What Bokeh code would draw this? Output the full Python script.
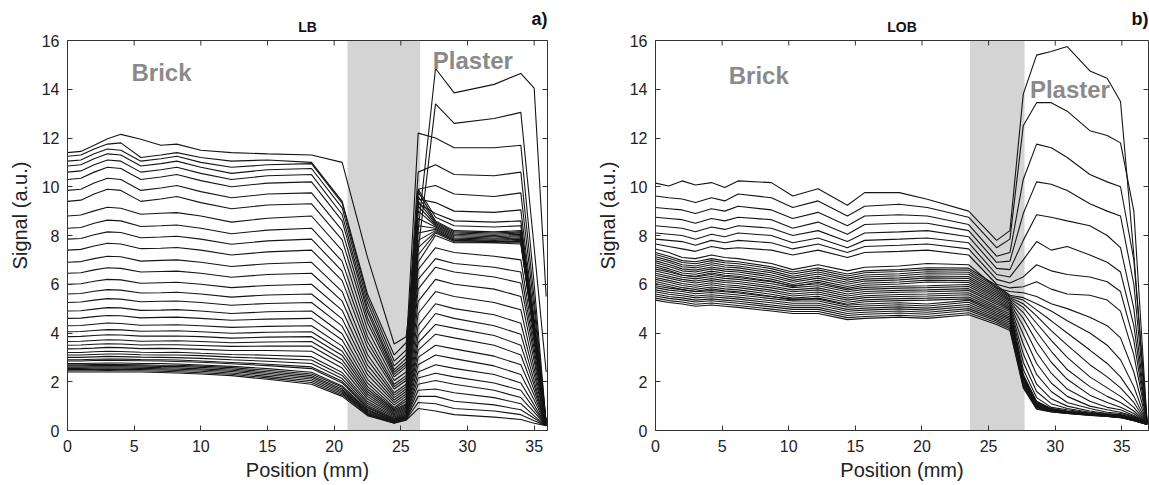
from bokeh.plotting import figure
from bokeh.layouts import row
from bokeh.models import Range1d, BoxAnnotation, Label, LinearAxis, FixedTicker, Span
from bokeh.embed import file_html
from bokeh.resources import INLINE

# ---------------- Panel a (LB) ----------------
LB_X = [0, 1, 2, 3, 4, 5.5, 7, 8.2, 10, 12.3, 15, 18.3, 20.6, 22.5, 24.5, 25.4, 26.3, 27.6, 29, 32, 34, 35, 35.9]

LB_EARLY = [
    [11.4, 11.45, 11.7, 11.97, 12.15, 11.95, 11.7, 11.75, 11.5, 11.4, 11.35, 11.3, 11.0, 7.1, 3.55, 3.85, 8.2, 14.85, 13.85, 14.2, 14.65, 14.05, 5.5],
    [11.25, 11.3, 11.55, 11.75, 11.8, 11.2, 11.3, 11.4, 11.2, 11.05, 11.1, 11.0, 9.4, 5.6, 3.1, 3.6, 7.4, 13.4, 12.6, 12.8, 13.05, 7.5, 2.4],
    [11.05, 11.1, 11.35, 11.55, 11.5, 11.05, 11.15, 11.25, 11.0, 10.8, 10.9, 10.95, 9.33, 5.44, 2.85, 3.3, 12.2, 12.0, 11.6, 11.6, 11.7, 6.0, 0.3],
    [10.85, 10.9, 11.15, 11.35, 11.3, 10.85, 10.95, 11.05, 10.8, 10.55, 10.7, 10.75, 9.13, 5.24, 2.65, 3.1, 10.6, 10.9, 10.5, 10.45, 10.6, 5.4, 0.3],
    [10.6, 10.65, 10.9, 11.1, 11.05, 10.6, 10.7, 10.8, 10.55, 10.3, 10.45, 10.5, 8.86, 5.02, 2.5, 2.95, 9.9, 10.05, 9.7, 9.6, 9.75, 5.0, 0.3],
    [10.3, 10.35, 10.6, 10.8, 10.75, 10.3, 10.4, 10.5, 10.25, 10.0, 10.15, 10.2, 8.6, 4.86, 2.4, 2.8, 9.5, 9.35, 9.0, 8.95, 9.05, 4.6, 0.3],
    [9.85, 9.9, 10.15, 10.35, 10.3, 9.85, 9.95, 10.05, 9.8, 9.55, 9.7, 9.75, 8.21, 4.63, 2.3, 2.7, 9.3, 8.9, 8.6, 8.55, 8.6, 4.4, 0.3],
    [9.4, 9.45, 9.7, 9.9, 9.85, 9.4, 9.5, 9.6, 9.35, 9.1, 9.25, 9.3, 7.82, 4.42, 2.2, 2.6, 9.9, 8.75, 8.4, 8.35, 8.4, 4.3, 0.3],
]

LB_MIDDLE = [
    [8.8, 8.84, 9.01, 9.16, 9.12, 8.87, 8.91, 8.94, 8.8, 8.55, 8.71, 8.8, 7.38, 4.14, 2.05, 2.4, 9.8, 8.6, 8.2, 8.15, 8.2, 4.2, 0.3],
    [8.3, 8.33, 8.5, 8.63, 8.6, 8.37, 8.4, 8.43, 8.3, 8.07, 8.22, 8.3, 6.94, 3.86, 1.9, 2.25, 9.6, 8.55, 8.15, 8.1, 8.15, 4.15, 0.3],
    [7.85, 7.88, 8.03, 8.15, 8.12, 7.91, 7.94, 7.97, 7.85, 7.64, 7.78, 7.85, 6.54, 3.63, 1.8, 2.15, 9.4, 8.5, 8.1, 8.05, 8.1, 4.1, 0.3],
    [7.4, 7.43, 7.57, 7.68, 7.65, 7.46, 7.48, 7.51, 7.4, 7.2, 7.33, 7.4, 6.15, 3.4, 1.7, 2.05, 9.2, 8.45, 8.05, 8.0, 8.05, 4.1, 0.3],
    [6.9, 6.93, 7.05, 7.15, 7.13, 6.95, 6.98, 7.0, 6.9, 6.73, 6.84, 6.9, 5.7, 3.12, 1.55, 1.9, 9.0, 8.4, 8.0, 7.95, 8.0, 4.05, 0.3],
    [6.45, 6.47, 6.59, 6.68, 6.65, 6.5, 6.52, 6.54, 6.45, 6.29, 6.4, 6.45, 5.31, 2.9, 1.45, 1.8, 8.7, 8.35, 7.95, 7.9, 7.95, 4.0, 0.3],
    [6.0, 6.02, 6.12, 6.2, 6.18, 6.04, 6.06, 6.08, 6.0, 5.86, 5.95, 6.0, 4.93, 2.68, 1.35, 1.7, 8.4, 8.3, 7.9, 7.85, 7.9, 4.0, 0.3],
    [5.6, 5.62, 5.71, 5.78, 5.76, 5.64, 5.65, 5.67, 5.6, 5.47, 5.56, 5.6, 4.58, 2.48, 1.25, 1.6, 8.1, 8.25, 7.85, 7.8, 7.85, 3.95, 0.3],
    [5.25, 5.27, 5.35, 5.41, 5.39, 5.28, 5.3, 5.31, 5.25, 5.14, 5.21, 5.25, 4.28, 2.29, 1.15, 1.5, 7.8, 8.2, 7.8, 7.75, 7.8, 3.95, 0.3],
    [4.9, 4.91, 4.98, 5.04, 5.03, 4.93, 4.94, 4.96, 4.9, 4.8, 4.87, 4.9, 3.97, 2.1, 1.05, 1.4, 7.5, 8.15, 7.8, 7.75, 7.75, 3.9, 0.3],
    [4.6, 4.61, 4.67, 4.72, 4.71, 4.62, 4.64, 4.65, 4.6, 4.52, 4.57, 4.6, 3.71, 1.94, 0.95, 1.3, 7.2, 8.1, 7.75, 7.7, 7.7, 3.9, 0.3],
    [4.3, 4.31, 4.36, 4.41, 4.39, 4.32, 4.33, 4.34, 4.3, 4.23, 4.27, 4.3, 3.46, 1.8, 0.9, 1.2, 6.9, 8.0, 7.7, 7.7, 7.65, 3.85, 0.3],
]

LB_LATE = [
    [4.05, 4.06, 4.1, 4.14, 4.13, 4.07, 4.08, 4.09, 4.05, 3.99, 4.03, 4.05, 3.25, 1.69, 0.85, 1.1, 6.6, 7.5, 7.3, 7.15, 7.0, 3.6, 0.25],
    [3.85, 3.86, 3.9, 3.93, 3.92, 3.87, 3.87, 3.88, 3.85, 3.79, 3.83, 3.85, 3.08, 1.59, 0.8, 1.05, 6.2, 7.05, 6.85, 6.7, 6.5, 3.35, 0.25],
    [3.65, 3.66, 3.69, 3.72, 3.71, 3.66, 3.67, 3.68, 3.65, 3.6, 3.63, 3.65, 2.9, 1.49, 0.75, 1.0, 5.8, 6.7, 6.5, 6.3, 6.05, 3.1, 0.25],
    [3.5, 3.51, 3.54, 3.56, 3.55, 3.51, 3.52, 3.52, 3.49, 3.45, 3.46, 3.46, 2.74, 1.39, 0.7, 0.95, 5.3, 6.2, 6.0, 5.8, 5.5, 2.85, 0.25],
    [3.35, 3.36, 3.38, 3.41, 3.4, 3.36, 3.37, 3.36, 3.33, 3.28, 3.28, 3.25, 2.56, 1.29, 0.65, 0.9, 4.8, 5.7, 5.5, 5.25, 4.95, 2.55, 0.25],
    [3.2, 3.2, 3.23, 3.25, 3.24, 3.21, 3.2, 3.21, 3.17, 3.12, 3.09, 3.03, 2.38, 1.19, 0.6, 0.85, 4.3, 5.2, 5.0, 4.75, 4.4, 2.3, 0.25],
    [3.1, 3.1, 3.12, 3.14, 3.14, 3.11, 3.1, 3.1, 3.07, 3.01, 2.96, 2.89, 2.26, 1.11, 0.55, 0.8, 3.9, 4.8, 4.6, 4.3, 3.95, 2.05, 0.2],
    [3.0, 3.0, 3.02, 3.04, 3.03, 3.01, 3.0, 2.99, 2.96, 2.9, 2.84, 2.75, 2.13, 1.03, 0.5, 0.75, 3.6, 4.35, 4.2, 3.9, 3.5, 1.85, 0.2],
    [2.9, 2.9, 2.92, 2.93, 2.93, 2.91, 2.9, 2.89, 2.85, 2.79, 2.72, 2.61, 2.02, 0.96, 0.47, 0.7, 3.3, 3.95, 3.8, 3.5, 3.1, 1.65, 0.2],
    [2.85, 2.85, 2.87, 2.88, 2.87, 2.86, 2.85, 2.83, 2.8, 2.74, 2.66, 2.54, 1.95, 0.92, 0.45, 0.65, 3.0, 3.5, 3.35, 3.05, 2.7, 1.45, 0.2],
    [2.75, 2.75, 2.76, 2.77, 2.77, 2.75, 2.75, 2.73, 2.69, 2.63, 2.54, 2.39, 1.83, 0.86, 0.42, 0.62, 2.7, 3.1, 2.95, 2.65, 2.3, 1.25, 0.2],
    [2.7, 2.7, 2.71, 2.72, 2.71, 2.7, 2.68, 2.68, 2.64, 2.58, 2.47, 2.32, 1.77, 0.82, 0.4, 0.58, 2.4, 2.7, 2.55, 2.3, 1.95, 1.05, 0.2],
    [2.65, 2.65, 2.66, 2.67, 2.66, 2.65, 2.63, 2.63, 2.59, 2.52, 2.41, 2.25, 1.7, 0.78, 0.38, 0.55, 2.15, 2.35, 2.2, 1.95, 1.65, 0.9, 0.2],
    [2.6, 2.6, 2.61, 2.61, 2.61, 2.6, 2.58, 2.57, 2.53, 2.47, 2.35, 2.18, 1.64, 0.74, 0.36, 0.52, 1.9, 2.05, 1.9, 1.65, 1.35, 0.75, 0.2],
    [2.55, 2.55, 2.56, 2.56, 2.56, 2.55, 2.53, 2.51, 2.48, 2.42, 2.29, 2.11, 1.58, 0.7, 0.34, 0.5, 1.65, 1.7, 1.55, 1.35, 1.1, 0.6, 0.2],
    [2.5, 2.5, 2.5, 2.51, 2.5, 2.5, 2.48, 2.46, 2.43, 2.36, 2.22, 2.04, 1.52, 0.67, 0.32, 0.47, 1.4, 1.4, 1.2, 1.05, 0.85, 0.5, 0.2],
    [2.45, 2.45, 2.45, 2.46, 2.45, 2.45, 2.43, 2.41, 2.37, 2.31, 2.16, 1.97, 1.46, 0.64, 0.31, 0.45, 1.15, 1.1, 0.9, 0.8, 0.65, 0.4, 0.2],
    [2.4, 2.4, 2.4, 2.4, 2.4, 2.4, 2.38, 2.36, 2.32, 2.25, 2.1, 1.9, 1.4, 0.61, 0.3, 0.42, 0.9, 0.8, 0.65, 0.55, 0.45, 0.3, 0.2],
]

# ---------------- Panel b (LOB) ----------------
LOB_X = [0, 1, 2, 3, 4.2, 5.2, 6.2, 8.7, 10.3, 12.2, 14.4, 15.7, 18.3, 20.4, 23.5, 25.6, 26.6, 27.6, 28.6, 29.7, 30.9, 32.6, 33.9, 34.9, 35.9, 36.9]

LOB_EARLY = [
    [10.15, 10.03, 10.24, 10.07, 10.17, 9.97, 10.24, 10.17, 9.62, 9.92, 9.24, 9.76, 9.76, 9.49, 9.0, 7.8, 8.2, 13.8, 15.4, 15.55, 15.75, 14.75, 14.45, 13.5, 7.2, 0.3],
    [9.62, 9.55, 9.5, 9.35, 9.55, 9.42, 9.7, 9.55, 9.15, 9.42, 8.8, 9.2, 9.28, 9.15, 8.75, 7.5, 7.85, 12.5, 13.45, 13.45, 13.1, 12.3, 12.1, 11.8, 9.0, 0.3],
    [9.15, 9.1, 9.05, 8.9, 9.1, 9.0, 9.2, 9.05, 8.7, 8.95, 8.4, 8.8, 8.85, 8.8, 8.45, 7.15, 7.3, 10.3, 11.75, 11.6, 11.2, 10.5, 10.2, 10.0, 7.0, 0.3],
    [8.75, 8.7, 8.65, 8.5, 8.7, 8.6, 8.75, 8.65, 8.3, 8.55, 8.05, 8.45, 8.5, 8.5, 8.2, 6.9, 6.95, 8.9, 10.2, 10.1, 9.85, 9.3, 9.0, 8.8, 6.0, 0.3],
    [8.4, 8.35, 8.3, 8.15, 8.35, 8.25, 8.4, 8.3, 8.0, 8.2, 7.75, 8.1, 8.15, 8.2, 7.95, 6.65, 6.6, 7.8, 8.85, 8.75, 8.6, 8.4, 8.0, 7.5, 5.0, 0.3],
    [8.1, 8.05, 8.0, 7.85, 8.05, 7.95, 8.1, 8.0, 7.7, 7.9, 7.5, 7.8, 7.85, 7.9, 7.7, 6.4, 6.3, 7.0, 7.75, 7.4, 7.55, 7.2, 6.9, 6.5, 4.3, 0.3],
    [7.85, 7.8, 7.75, 7.6, 7.8, 7.7, 7.8, 7.7, 7.45, 7.65, 7.3, 7.55, 7.6, 7.65, 7.45, 6.2, 6.05, 6.3, 6.8, 6.55, 6.4, 6.3, 6.1, 5.7, 3.7, 0.3],
    [7.65, 7.55, 7.45, 7.35, 7.55, 7.45, 7.5, 7.4, 7.2, 7.4, 7.1, 7.3, 7.35, 7.4, 7.2, 6.0, 5.85, 5.9, 6.1, 5.8, 5.6, 5.55, 5.35, 4.9, 3.1, 0.3],
    [7.45, 7.3, 7.1, 7.05, 7.2, 7.1, 7.05, 6.85, 6.6, 6.8, 6.55, 6.7, 6.75, 6.85, 6.8, 5.85, 5.7, 5.65, 5.5, 5.2, 5.0, 4.65, 4.3, 3.8, 2.4, 0.3],
]

LOB_FAN = [
    [7.3, 7.15, 6.97, 6.92, 7.05, 6.96, 6.92, 6.72, 6.5, 6.67, 6.42, 6.55, 6.6, 6.68, 6.66, 5.95, 5.55, 5.45, 5.2, 4.9, 4.5, 4.0, 3.5, 2.9, 1.8, 0.3],
    [7.22, 7.07, 6.89, 6.84, 6.97, 6.88, 6.84, 6.64, 6.42, 6.59, 6.34, 6.47, 6.52, 6.6, 6.58, 5.88, 5.5, 5.35, 4.95, 4.5, 4.0, 3.3, 2.75, 2.2, 1.4, 0.3],
    [7.13, 6.98, 6.8, 6.75, 6.88, 6.79, 6.75, 6.55, 6.33, 6.5, 6.25, 6.38, 6.43, 6.51, 6.49, 5.81, 5.45, 5.2, 4.7, 4.1, 3.5, 2.7, 2.2, 1.75, 1.15, 0.3],
    [7.05, 6.9, 6.72, 6.67, 6.8, 6.71, 6.67, 6.47, 6.25, 6.42, 6.17, 6.3, 6.35, 6.43, 6.41, 5.74, 5.4, 5.05, 4.4, 3.7, 3.0, 2.2, 1.75, 1.4, 0.95, 0.3],
    [6.96, 6.81, 6.63, 6.58, 6.71, 6.62, 6.58, 6.38, 6.16, 6.33, 6.08, 6.21, 6.26, 6.34, 6.32, 5.67, 5.35, 4.85, 4.05, 3.25, 2.5, 1.8, 1.4, 1.15, 0.8, 0.3],
    [6.88, 6.73, 6.55, 6.5, 6.63, 6.54, 6.5, 6.3, 6.08, 6.25, 6.0, 6.13, 6.18, 6.26, 6.24, 5.6, 5.3, 4.6, 3.65, 2.8, 2.1, 1.45, 1.15, 0.95, 0.7, 0.3],
    [6.79, 6.64, 6.46, 6.41, 6.54, 6.45, 6.41, 6.21, 5.99, 6.16, 5.91, 6.04, 6.09, 6.17, 6.15, 5.53, 5.24, 4.3, 3.2, 2.35, 1.7, 1.2, 0.95, 0.85, 0.62, 0.3],
    [6.71, 6.56, 6.38, 6.33, 6.46, 6.37, 6.33, 6.13, 5.91, 6.08, 5.83, 5.96, 6.01, 6.09, 6.07, 5.46, 5.18, 3.95, 2.75, 1.95, 1.4, 1.0, 0.85, 0.75, 0.58, 0.3],
    [6.62, 6.5, 6.37, 6.3, 6.4, 6.32, 6.28, 6.1, 5.94, 6.02, 5.77, 5.87, 5.92, 5.94, 5.99, 5.39, 5.12, 3.55, 2.3, 1.6, 1.15, 0.9, 0.75, 0.7, 0.55, 0.3],
    [6.54, 6.42, 6.29, 6.22, 6.32, 6.24, 6.2, 6.02, 5.86, 5.94, 5.69, 5.79, 5.84, 5.86, 5.91, 5.32, 5.06, 3.15, 1.9, 1.3, 1.0, 0.8, 0.7, 0.65, 0.52, 0.3],
    [6.45, 6.33, 6.2, 6.13, 6.23, 6.15, 6.11, 5.93, 5.77, 5.85, 5.6, 5.7, 5.75, 5.77, 5.82, 5.25, 5.0, 2.8, 1.6, 1.1, 0.9, 0.75, 0.68, 0.62, 0.5, 0.3],
    [6.37, 6.25, 6.12, 6.05, 6.15, 6.07, 6.03, 5.85, 5.69, 5.77, 5.52, 5.62, 5.67, 5.69, 5.74, 5.18, 4.94, 2.5, 1.35, 0.95, 0.85, 0.72, 0.66, 0.6, 0.48, 0.3],
]

LOB_LATE = [
    [6.28, 6.16, 6.03, 5.96, 6.06, 5.98, 5.94, 5.76, 5.6, 5.68, 5.43, 5.53, 5.58, 5.6, 5.65, 5.1, 4.88, 2.3, 1.2, 0.9, 0.8, 0.7, 0.65, 0.6, 0.45, 0.28],
    [6.2, 6.08, 5.95, 5.88, 5.98, 5.9, 5.86, 5.68, 5.52, 5.6, 5.35, 5.45, 5.5, 5.52, 5.57, 5.03, 4.8, 2.25, 1.17, 0.89, 0.79, 0.69, 0.64, 0.59, 0.45, 0.28],
    [6.11, 5.99, 5.86, 5.79, 5.89, 5.81, 5.77, 5.59, 5.43, 5.51, 5.26, 5.36, 5.41, 5.43, 5.48, 4.96, 4.73, 2.2, 1.14, 0.88, 0.78, 0.69, 0.64, 0.58, 0.44, 0.27],
    [6.03, 5.91, 5.78, 5.71, 5.81, 5.73, 5.69, 5.51, 5.35, 5.43, 5.18, 5.28, 5.33, 5.35, 5.4, 4.89, 4.66, 2.15, 1.11, 0.86, 0.77, 0.68, 0.63, 0.58, 0.44, 0.27],
    [5.94, 5.84, 5.78, 5.69, 5.74, 5.69, 5.64, 5.49, 5.39, 5.39, 5.14, 5.19, 5.24, 5.19, 5.34, 4.82, 4.59, 2.1, 1.08, 0.85, 0.76, 0.67, 0.62, 0.57, 0.43, 0.27],
    [5.86, 5.76, 5.7, 5.61, 5.66, 5.61, 5.56, 5.41, 5.31, 5.31, 5.06, 5.11, 5.16, 5.11, 5.26, 4.75, 4.52, 2.05, 1.05, 0.84, 0.75, 0.67, 0.62, 0.56, 0.43, 0.26],
    [5.77, 5.67, 5.61, 5.52, 5.57, 5.52, 5.47, 5.32, 5.22, 5.22, 4.97, 5.02, 5.07, 5.02, 5.17, 4.69, 4.45, 2.0, 1.02, 0.82, 0.74, 0.66, 0.61, 0.56, 0.42, 0.26],
    [5.69, 5.59, 5.53, 5.44, 5.49, 5.44, 5.39, 5.24, 5.14, 5.14, 4.89, 4.94, 4.99, 4.94, 5.09, 4.62, 4.38, 1.95, 0.99, 0.81, 0.73, 0.65, 0.6, 0.55, 0.42, 0.26],
    [5.6, 5.5, 5.44, 5.35, 5.4, 5.35, 5.3, 5.15, 5.05, 5.05, 4.8, 4.85, 4.9, 4.85, 5.0, 4.55, 4.31, 1.9, 0.96, 0.8, 0.72, 0.64, 0.6, 0.54, 0.41, 0.25],
    [5.52, 5.42, 5.36, 5.27, 5.32, 5.27, 5.22, 5.07, 4.97, 4.97, 4.72, 4.77, 4.82, 4.77, 4.92, 4.49, 4.24, 1.85, 0.93, 0.78, 0.71, 0.64, 0.59, 0.54, 0.41, 0.25],
    [5.43, 5.33, 5.27, 5.18, 5.23, 5.18, 5.13, 4.98, 4.88, 4.88, 4.63, 4.68, 4.73, 4.68, 4.83, 4.42, 4.17, 1.8, 0.9, 0.77, 0.7, 0.63, 0.58, 0.53, 0.4, 0.25],
    [5.35, 5.25, 5.19, 5.1, 5.15, 5.1, 5.05, 4.9, 4.8, 4.8, 4.55, 4.6, 4.65, 4.6, 4.75, 4.35, 4.1, 1.75, 0.87, 0.76, 0.7, 0.62, 0.58, 0.52, 0.4, 0.25],
]

X_TICKS = [0, 5, 10, 15, 20, 25, 30, 35]
Y_TICKS = [0, 2, 4, 6, 8, 10, 12, 14, 16]
Y_MAX = 16

FONT = "Liberation Sans"
LINE_COLOR = "#151515"
AXIS_COLOR = "#333333"
SHADE_COLOR = "#d4d4d4"
ZONE_COLOR = "#8a8a8a"

PX_PER_UNIT = 390 / 16.0          # plot box is 390 px tall for 0..16
TOP_PAD = 40 / PX_PER_UNIT        # room above the box for the panel titles
TICK_LEN = 5 / PX_PER_UNIT


def make_panel(xk, groups, xmax, shade, title, tag, brick_x, brick_y,
               plaster_x, plaster_y, border_left, border_right, frame_w):
    p = figure(frame_width=frame_w, frame_height=430,
               x_range=Range1d(0, xmax), y_range=Range1d(0, Y_MAX + TOP_PAD),
               output_backend="svg", toolbar_location=None,
               min_border_left=border_left, min_border_right=border_right,
               min_border_top=0, min_border_bottom=55)
    p.grid.visible = False
    p.outline_line_color = None
    p.background_fill_color = "white"
    p.border_fill_color = "white"

    p.add_layout(BoxAnnotation(left=shade[0], right=shade[1], bottom=0, top=Y_MAX,
                               fill_color=SHADE_COLOR, fill_alpha=1.0,
                               line_color=None, level="underlay"))

    for grp in groups:
        p.multi_line(xs=[xk] * len(grp), ys=grp, line_color=LINE_COLOR, line_width=1.1)

    # box top edge and its inward ticks
    p.add_layout(Span(location=Y_MAX, dimension="width", line_color=AXIS_COLOR, line_width=1))
    p.segment(x0=X_TICKS, y0=[Y_MAX] * len(X_TICKS), x1=X_TICKS,
              y1=[Y_MAX - TICK_LEN] * len(X_TICKS), line_color=AXIS_COLOR, line_width=1)

    xa = p.xaxis[0]
    xa.ticker = FixedTicker(ticks=X_TICKS)
    xa.axis_label = "Position (mm)"
    ya = p.yaxis[0]
    ya.ticker = FixedTicker(ticks=Y_TICKS)
    ya.axis_label = "Signal (a.u.)"
    ya.bounds = (0, Y_MAX)
    right = LinearAxis(ticker=FixedTicker(ticks=Y_TICKS), bounds=(0, Y_MAX),
                       major_label_overrides={t: "" for t in Y_TICKS},
                       major_label_text_color=None, major_label_standoff=0)
    p.add_layout(right, "right")
    for ax in (xa, ya, right):
        ax.major_tick_in = 5
        ax.major_tick_out = 0
        ax.minor_tick_line_color = None
        ax.axis_line_color = AXIS_COLOR
        ax.major_tick_line_color = AXIS_COLOR
    for ax in (xa, ya):
        ax.major_label_text_font = FONT
        ax.major_label_text_font_size = "16px"
        ax.major_label_text_color = "#222222"
        ax.axis_label_text_font = FONT
        ax.axis_label_text_font_size = "20px"
        ax.axis_label_text_font_style = "normal"
        ax.axis_label_text_color = "#222222"
    xa.major_label_standoff = 9
    xa.axis_label_standoff = 4
    ya.major_label_standoff = 8
    ya.axis_label_standoff = 8

    p.add_layout(Label(x=xmax / 2, y=16.55, text=title, text_align="center",
                       text_baseline="middle", text_font=FONT, text_font_size="14px",
                       text_font_style="bold", text_color="#111111"))
    p.add_layout(Label(x=xmax, y=16.9, text=tag, text_align="right",
                       text_baseline="middle", text_font=FONT, text_font_size="18px",
                       text_font_style="bold", text_color="#111111"))
    p.add_layout(Label(x=brick_x, y=brick_y, text="Brick", text_align="left",
                       text_baseline="middle", text_font=FONT, text_font_size="24px",
                       text_font_style="bold", text_color=ZONE_COLOR))
    p.add_layout(Label(x=plaster_x, y=plaster_y, text="Plaster", text_align="left",
                       text_baseline="middle", text_font=FONT, text_font_size="24px",
                       text_font_style="bold", text_color=ZONE_COLOR))
    return p


pa = make_panel(LB_X, [LB_EARLY, LB_MIDDLE, LB_LATE], 36, (21.0, 26.45), "LB", "a)",
                4.8, 14.7, 27.4, 15.2, 67, 28, 480)
pb = make_panel(LOB_X, [LOB_EARLY, LOB_FAN, LOB_LATE], 37, (23.6, 27.7), "LOB", "b)",
                5.5, 14.55, 28.1, 14.0, 80, 1, 493)

layout = row(pa, pb, spacing=0)
open("out.html", "w").write(file_html(layout, INLINE))
